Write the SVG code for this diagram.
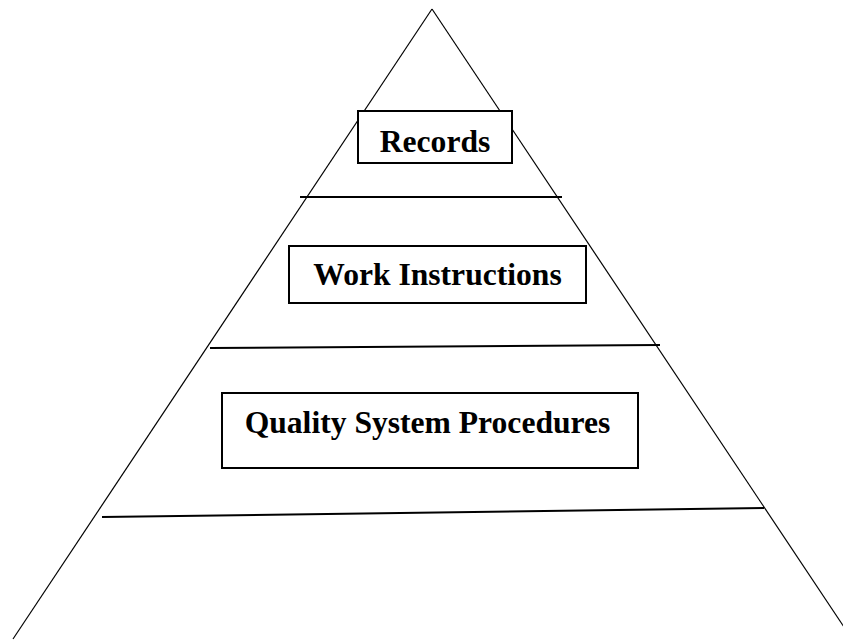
<svg xmlns="http://www.w3.org/2000/svg" width="843" height="640" viewBox="0 0 843 640">
<style>
.side{stroke:#000;stroke-width:1.2;fill:none}
.div{stroke:#000;stroke-width:2;fill:none}
.box{stroke:#000;stroke-width:2;fill:#fff}
.lbl{font-family:"Liberation Serif","Times New Roman",serif;font-weight:bold;font-size:31.6px;fill:#000;text-anchor:middle}
</style>
<rect width="843" height="640" fill="#fff"/>
<g id="connectors">
<line class="side" x1="432" y1="9" x2="13" y2="639"/>
<line class="side" x1="432" y1="9" x2="846" y2="630"/>
<line class="div" x1="300" y1="197" x2="562" y2="197"/>
<line class="div" x1="210" y1="348" x2="660" y2="345"/>
<line class="div" x1="102" y1="517" x2="764" y2="508"/>
</g>
<g id="records">
<rect class="box" x="358" y="111" width="154" height="52"/>
<text class="lbl" x="435" y="152">Records</text>
</g>
<g id="work-instructions">
<rect class="box" x="289" y="246" width="297" height="57"/>
<text class="lbl" x="437.5" y="285">Work Instructions</text>
</g>
<g id="quality-system-procedures">
<rect class="box" x="222" y="393" width="416" height="75"/>
<text class="lbl" x="427.5" y="433">Quality System Procedures</text>
</g>
</svg>
